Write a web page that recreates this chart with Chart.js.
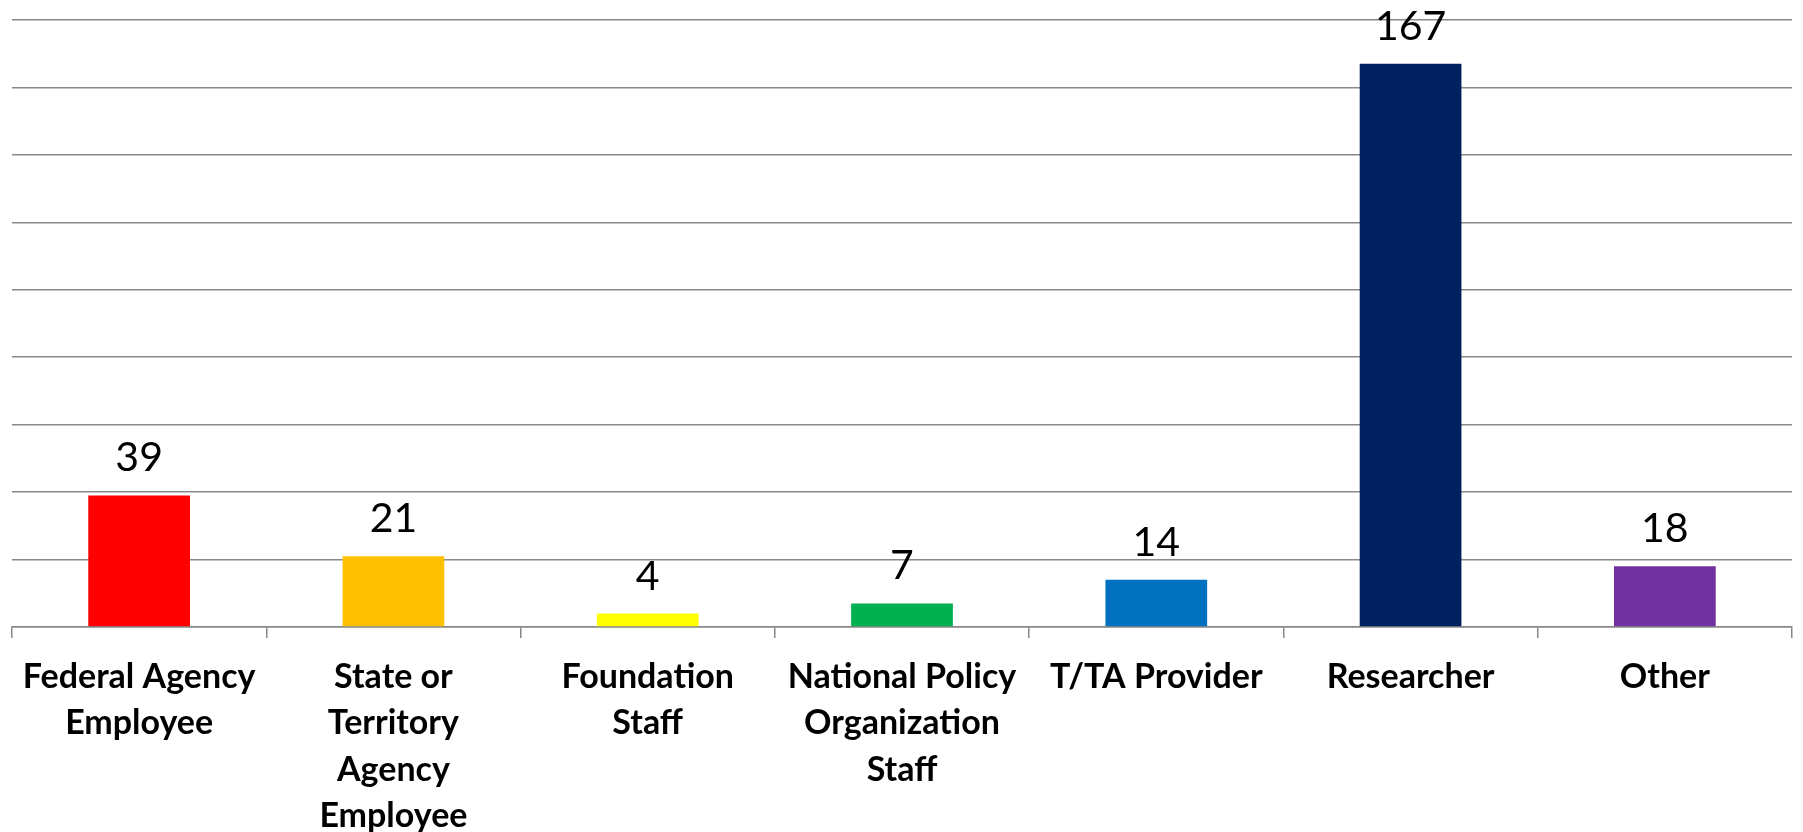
<!DOCTYPE html>
<html>
<head>
<meta charset="utf-8">
<title>Respondents by role</title>
<script src="https://cdn.jsdelivr.net/npm/chart.js@4/dist/chart.umd.min.js"></script>
<style>
  html, body { margin: 0; padding: 0; background: #fff; }
  #wrap { width: 1803px; height: 832px; }
</style>
</head>
<body>
<div id="wrap"><canvas id="roleChart" width="1803" height="832"></canvas></div>
<script>
// Categories (multi-line labels as in the original)
const categories = [
  ['Federal Agency', 'Employee'],
  ['State or', 'Territory', 'Agency', 'Employee'],
  ['Foundation', 'Staff'],
  ['National Policy', 'Organization', 'Staff'],
  ['T/TA Provider'],
  ['Researcher'],
  ['Other']
];
const counts = [39, 21, 4, 7, 14, 167, 18];
const barColors = ['#FF0000', '#FFC000', '#FFFF00', '#00B050', '#0070C0', '#002060', '#7030A0'];

// Y axis range (gridlines every 20, no tick labels shown)
const yMin = 0;
const yMax = 180;
const yStep = 20;

const gridGray = '#888888';

// draws the value above each bar
const valueLabels = {
  id: 'valueLabels',
  afterDatasetsDraw(chart) {
    const ctx = chart.ctx;
    const meta = chart.getDatasetMeta(0);
    ctx.save();
    ctx.font = '41px Lato';
    ctx.fillStyle = '#000';
    ctx.textAlign = 'center';
    ctx.textBaseline = 'alphabetic';
    meta.data.forEach((bar, i) => {
      ctx.fillText(String(counts[i]), bar.x, bar.y - 24);
    });
    ctx.restore();
  }
};

const ctx = document.getElementById('roleChart').getContext('2d');
new Chart(ctx, {
  type: 'bar',
  data: {
    labels: categories,
    datasets: [{
      data: counts,
      backgroundColor: barColors,
      borderWidth: 0,
      categoryPercentage: 1,
      barPercentage: 0.4
    }]
  },
  options: {
    responsive: false,
    animation: false,
    layout: { padding: { top: 20, left: 12, right: 11, bottom: 0 } },
    plugins: {
      legend: { display: false },
      tooltip: { enabled: false }
    },
    scales: {
      x: {
        grid: {
          display: true,
          offset: true,
          drawOnChartArea: false,
          drawTicks: true,
          tickLength: 11,
          color: gridGray,
          lineWidth: 1.5
        },
        border: { display: true, color: gridGray, width: 1.5 },
        ticks: {
          color: '#000',
          padding: 16,
          maxRotation: 0,
          autoSkip: false,
          font: { family: 'Lato', weight: 'bold', size: 34, lineHeight: 1.36 }
        },
        afterFit(scale) { scale.height = 205; }
      },
      y: {
        min: yMin,
        max: yMax,
        ticks: { display: false, stepSize: yStep },
        grid: { color: gridGray, lineWidth: 1.5, drawTicks: false },
        border: { display: false }
      }
    }
  },
  plugins: [valueLabels]
});
</script>
</body>
</html>
